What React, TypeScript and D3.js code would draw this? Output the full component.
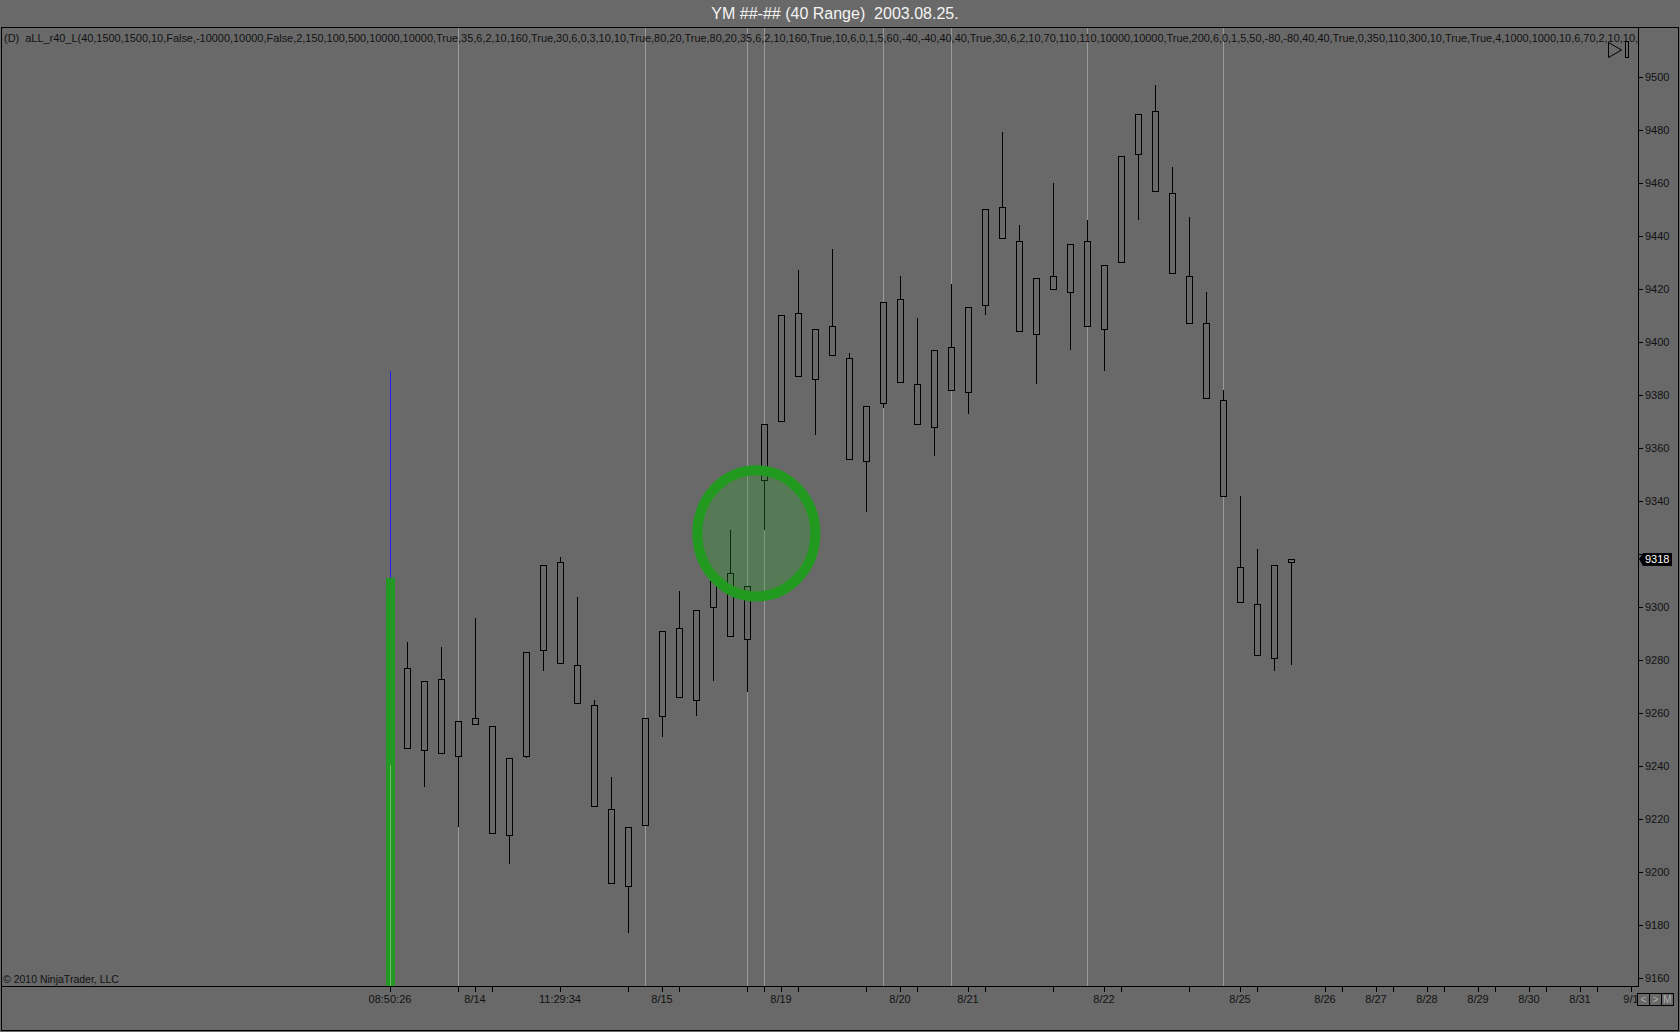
import React from "react";
import * as d3 from "d3";

const TITLE = "YM ##-## (40 Range)  2003.08.25.";
const INDICATOR_LABEL =
  "(D)  aLL_r40_L(40,1500,1500,10,False,-10000,10000,False,2,150,100,500,10000,10000,True,35,6,2,10,160,True,30,6,0,3,10,10,True,80,20,True,80,20,35,6,2,10,160,True,10,6,0,1,5,60,-40,-40,40,40,True,30,6,2,10,70,110,110,10000,10000,True,200,6,0,1,5,50,-80,-80,40,40,True,0,350,110,300,10,True,True,4,1000,1000,10,6,70,2,10,10,";
const COPYRIGHT = "\u00a9 2010 NinjaTrader, LLC";

// Range bars (bar index starts at 1)
const opens = [9277, 9246, 9273, 9244, 9258, 9255, 9214, 9244, 9284, 9317, 9278, 9263, 9224, 9195, 9218, 9259, 9292, 9265, 9300, 9313, 9288, 9348, 9370, 9411, 9386, 9406, 9394, 9355, 9377, 9416, 9384, 9368, 9398, 9381, 9414, 9451, 9438, 9403, 9425, 9419, 9438, 9405, 9430, 9471, 9487, 9456, 9425, 9407, 9378, 9315, 9301, 9281, 9317];
const highs = [9287, 9272, 9285, 9257, 9296, 9255, 9243, 9283, 9316, 9319, 9304, 9265, 9236, 9217, 9258, 9291, 9306, 9299, 9312, 9329, 9308, 9369, 9410, 9427, 9405, 9435, 9396, 9376, 9415, 9425, 9409, 9397, 9422, 9413, 9450, 9479, 9444, 9424, 9460, 9437, 9446, 9429, 9470, 9486, 9497, 9466, 9447, 9419, 9382, 9342, 9322, 9316, 9318];
const lows = [9247, 9232, 9245, 9217, 9256, 9215, 9203, 9243, 9276, 9279, 9264, 9225, 9196, 9177, 9218, 9251, 9266, 9259, 9272, 9289, 9268, 9329, 9370, 9387, 9365, 9395, 9356, 9336, 9375, 9385, 9369, 9357, 9382, 9373, 9410, 9439, 9404, 9384, 9420, 9397, 9406, 9389, 9430, 9446, 9457, 9426, 9407, 9379, 9342, 9302, 9282, 9276, 9278];
const closes = [9247, 9272, 9245, 9257, 9256, 9215, 9243, 9283, 9316, 9279, 9264, 9225, 9196, 9217, 9258, 9291, 9266, 9299, 9310, 9289, 9308, 9369, 9410, 9387, 9405, 9395, 9356, 9376, 9415, 9385, 9369, 9397, 9382, 9413, 9450, 9439, 9404, 9424, 9420, 9437, 9406, 9429, 9470, 9486, 9457, 9426, 9407, 9379, 9342, 9302, 9282, 9316, 9318];

const priceTicks = [9160, 9180, 9200, 9220, 9240, 9260, 9280, 9300, 9320, 9340, 9360, 9380, 9400, 9420, 9440, 9460, 9480, 9500];
const labelBars = [0, 5, 10, 16, 23, 30, 34, 42, 50, 55, 58, 61, 64, 67, 70, 73];
const labelTexts = ["08:50:26", "8/14", "11:29:34", "8/15", "8/19", "8/20", "8/21", "8/22", "8/25", "8/26", "8/27", "8/28", "8/29", "8/30", "8/31", "9/1"];
const minorTickBars = [4, 6, 14, 17, 21, 22, 24, 28, 31, 35, 39, 43, 47, 51, 56, 59, 62, 65, 68, 71];
const sessionBreakBars = [4, 15, 21, 22, 29, 33, 41, 49];
const lastPrice = 9318;

// Indicator marks at the first bar
const markerBar = 0;
const markerLineTop = 9389;
const markerBarTop = 9311;

// Highlight ellipse
const ellipseBar = 21.55;
const ellipsePrice = 9327.8;
const ellipseBarsRadius = 3.47;
const ellipsePriceRadius = 23.8;

const W = 1680;
const H = 1032;
const plotLeft = 1;
const plotRight = 1638;
const plotTop = 27;
const plotBottom = 986;
const BG = "#696969";
const FONT = "'Liberation Sans', Arial, sans-serif";

export default function App() {
  const x = d3.scaleLinear().domain([0, 73]).range([390, 1631]);
  const y = d3.scaleLinear().domain([9160, 9500]).range([978.4, 76.7]);
  const r = (v: number) => Math.round(v) + 0.5;

  const bars = opens.map((o, i) => ({
    idx: i + 1,
    o,
    h: highs[i],
    l: lows[i],
    c: closes[i],
  }));

  const ex = x(ellipseBar);
  const ey = y(ellipsePrice);
  const erx = x(ellipseBarsRadius) - x(0);
  const ery = y(9160) - y(9160 + ellipsePriceRadius);

  const lastY = Math.round(y(lastPrice));
  const visibleTicks = priceTicks.filter((p) => Math.abs(y(p) - lastY) > 9);

  return (
    <svg
      width={W}
      height={H}
      style={{ position: "fixed", left: 0, top: 0, display: "block" }}
      xmlns="http://www.w3.org/2000/svg"
    >
      <rect x={0} y={0} width={W} height={H} fill={BG} />
      {/* title */}
      <text
        x={835}
        y={19}
        textAnchor="middle"
        fontFamily={FONT}
        fontSize={16}
        fill="#f4f4f4"
        style={{ whiteSpace: "pre" }}
      >
        {TITLE}
      </text>

      {/* session break gridlines */}
      {sessionBreakBars.map((b) => (
        <line
          key={"g" + b}
          x1={r(x(b))}
          x2={r(x(b))}
          y1={plotTop}
          y2={plotBottom}
          stroke="#999999"
          strokeWidth={1}
        />
      ))}

      {/* indicator label */}
      <text
        x={4}
        y={42}
        fontFamily={FONT}
        fontSize={11}
        fill="#111"
        textLength={1634}
        lengthAdjust="spacingAndGlyphs"
        style={{ whiteSpace: "pre" }}
      >
        {INDICATOR_LABEL}
      </text>

      {/* indicator marker at first bar */}
      <line
        x1={r(x(markerBar))}
        x2={r(x(markerBar))}
        y1={y(markerLineTop)}
        y2={y(markerBarTop)}
        stroke="#2222ee"
        strokeWidth={1}
      />
      <rect
        x={x(markerBar) - 4}
        y={y(markerBarTop)}
        width={9}
        height={plotBottom - y(markerBarTop)}
        fill="#249824"
      />
      <line
        x1={r(x(markerBar))}
        x2={r(x(markerBar))}
        y1={765}
        y2={plotBottom}
        stroke="#6cb86c"
        strokeWidth={1}
      />

      {/* candles */}
      {bars.map((d) => {
        const cx = x(d.idx);
        const top = Math.round(y(Math.max(d.o, d.c)));
        const bot = Math.round(y(Math.min(d.o, d.c)));
        return (
          <g key={"c" + d.idx}>
            <line
              x1={cx + 0.5}
              x2={cx + 0.5}
              y1={Math.round(y(d.h))}
              y2={Math.round(y(d.l))}
              stroke="#000"
              strokeWidth={1}
            />
            <rect
              x={cx - 2.5}
              y={top + 0.5}
              width={6}
              height={Math.max(bot - top, 1)}
              fill={BG}
              stroke="#000"
              strokeWidth={1}
            />
          </g>
        );
      })}

      {/* highlight ellipse */}
      <ellipse
        cx={ex}
        cy={ey}
        rx={erx}
        ry={ery}
        fill="rgb(40,170,40)"
        fillOpacity={0.28}
        stroke="#22991f"
        strokeWidth={10}
      />

      {/* axes */}
      <line x1={plotLeft} x2={plotRight} y1={plotBottom + 0.5} y2={plotBottom + 0.5} stroke="#000" />
      <line x1={plotRight + 0.5} x2={plotRight + 0.5} y1={plotTop} y2={plotBottom + 1} stroke="#000" />
      <rect x={1.5} y={plotTop + 0.5} width={W - 3} height={1030 - plotTop} fill="none" stroke="#000" />

      {priceTicks.map((p) => (
        <line
          key={"pt" + p}
          x1={plotRight}
          x2={plotRight + 5}
          y1={r(y(p))}
          y2={r(y(p))}
          stroke="#000"
        />
      ))}
      {visibleTicks.map((p) => (
        <text
          key={"p" + p}
          x={plotRight + 7}
          y={y(p) + 4}
          fontFamily={FONT}
          fontSize={11}
          fill="#111"
        >
          {p}
        </text>
      ))}

      {labelBars.map((b, i) => (
        <g key={"l" + b}>
          <line x1={r(x(b))} x2={r(x(b))} y1={plotBottom} y2={plotBottom + 6} stroke="#000" />
          <text
            x={x(b)}
            y={1003}
            textAnchor="middle"
            fontFamily={FONT}
            fontSize={11}
            fill="#111"
          >
            {labelTexts[i]}
          </text>
        </g>
      ))}
      {minorTickBars.map((b) => (
        <line key={"m" + b} x1={r(x(b))} x2={r(x(b))} y1={plotBottom} y2={plotBottom + 6} stroke="#000" />
      ))}

      {/* last price marker */}
      <path
        d={`M${plotRight + 1},${lastY} L${plotRight + 5},${lastY - 6} L${plotRight + 34},${lastY - 6} L${plotRight + 34},${lastY + 7} L${plotRight + 5},${lastY + 7} Z`}
        fill="#000"
      />
      <text x={plotRight + 7} y={lastY + 4} fontFamily={FONT} fontSize={11} fill="#fff">
        {lastPrice}
      </text>

      {/* top-right icon */}
      <path d="M1608.5,42.5 L1621.5,50 L1608.5,57.5 Z" fill="none" stroke="#000" />
      <rect x={1625.5} y={41.5} width={3} height={16} fill="none" stroke="#000" />

      {/* bottom-right buttons */}
      {["<", ">", "M"].map((s, i) => (
        <g key={"b" + s}>
          <rect x={1637.5 + i * 12} y={993.5} width={12} height={12} fill="none" stroke="#000" />
          <text
            x={1643.5 + i * 12}
            y={1003}
            textAnchor="middle"
            fontFamily={FONT}
            fontSize={10}
            fill="#b0b0b0"
          >
            {s}
          </text>
        </g>
      ))}

      {/* copyright */}
      <text x={3} y={983} fontFamily={FONT} fontSize={10.5} fill="#111">
        {COPYRIGHT}
      </text>
    </svg>
  );
}
